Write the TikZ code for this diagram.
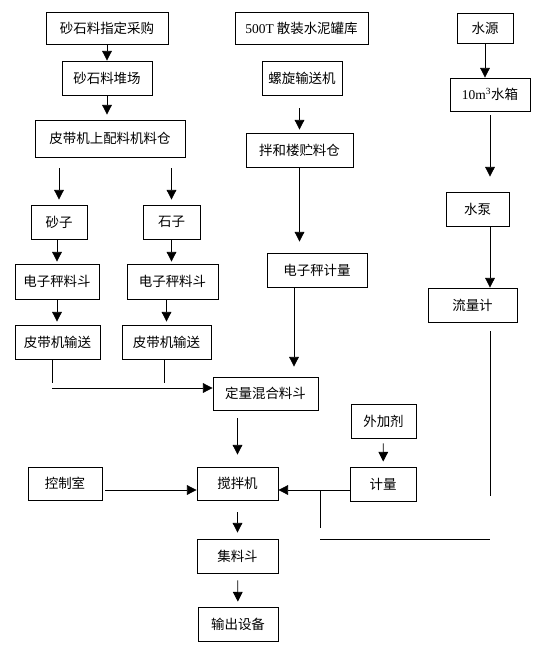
\documentclass[tikz,border=0pt]{standalone}
\usepackage{fontspec}
\setmainfont{Liberation Serif}
\newfontfamily\cjk{Noto Sans CJK SC}
\usepackage{tikz}
\usetikzlibrary{arrows.meta}
\tikzset{
  stage/.style 2 args={draw=black,line width=0.7pt,inner sep=0pt,
    minimum width=#1*0.03cm,minimum height=#2*0.03cm,
    font=\cjk\fontsize{11.5pt}{13pt}\selectfont},
  feed/.style={line width=0.7pt,-{Triangle[length=2.9mm,width=2.9mm]}},
  pipe/.style={line width=0.7pt}
}
\begin{document}
\begin{tikzpicture}[x=0.03cm,y=-0.03cm]
    \useasboundingbox (0,0) rectangle (553,651);
    \node[stage={122}{32}] (buy) at (107,28) {砂石料指定采购};
    \node[stage={90}{34}] (yard) at (107,78) {砂石料堆场};
    \node[stage={150}{37}] (bin) at (110,138.5) {皮带机上配料机料仓};
    \node[stage={56}{34}] (sand) at (59,222) {砂子};
    \node[stage={57}{34}] (stone) at (171.5,222) {石子};
    \node[stage={84}{35}] (scL) at (57,281.5) {电子秤料斗};
    \node[stage={91}{35}] (scR) at (172.5,281.5) {电子秤料斗};
    \node[stage={85}{34}] (beltL) at (57.5,342) {皮带机输送};
    \node[stage={89}{34}] (beltR) at (166.5,342) {皮带机输送};
    \node[stage={105}{33}] (hopper) at (265.5,393.5) {定量混合料斗};
    \node[stage={133}{32}] (cement) at (301.5,28) {{\rmfamily 500T} 散装水泥罐库};
    \node[stage={80}{34}] (screw) at (302,78) {螺旋输送机};
    \node[stage={107}{34}] (silo) at (299.5,150) {拌和楼贮料仓};
    \node[stage={100}{34}] (csc) at (317,270) {电子秤计量};
    \node[stage={56}{30}] (src) at (485,28) {水源};
    \node[stage={80}{33}] (tank) at (490,94.5) {{\rmfamily 10m\textsuperscript{3}}水箱};
    \node[stage={63}{34}] (pump) at (477.5,209) {水泵};
    \node[stage={89}{34}] (fmeter) at (472.5,305) {流量计};
    \node[stage={65}{34}] (admix) at (383.5,421) {外加剂};
    \node[stage={66}{34}] (meter) at (383,484) {计量};
    \node[stage={81}{33}] (mixer) at (237.5,483.5) {搅拌机};
    \node[stage={74}{33}] (ctrl) at (65,483.5) {控制室};
    \node[stage={81}{34}] (collect) at (237.5,556) {集料斗};
    \node[stage={80}{34}] (out) at (238,624) {输出设备};
    \coordinate (jL) at (52,383);
    \coordinate (jR) at (164,383);
    \coordinate (bus) at (52,388);
    \coordinate (cdrop) at (294,287);
    \coordinate (wend) at (490,496);
    \coordinate (jw) at (320,490);
    \coordinate (jb) at (320,528);
    \coordinate (wl) at (320,539);
    \draw[feed] (buy) -- (yard);
    \draw[feed,shorten >=0.15cm] (yard.south) -- (yard.south |- bin.north);
    \draw[feed,shorten <=0.33cm,shorten >=0.15cm] (bin.south -| sand) -- (sand.north);
    \draw[feed,shorten <=0.33cm,shorten >=0.15cm] (bin.south -| stone) -- (stone.north);
    \draw[feed,shorten >=0.06cm] (sand.south -| scL) -- (scL.north);
    \draw[feed,shorten >=0.06cm] (stone.south) -- (stone.south |- scR.north);
    \draw[feed,shorten >=0.09cm] (scL.south) -- (scL.south |- beltL.north);
    \draw[feed,shorten >=0.09cm] (scR.south -| beltR) -- (beltR.north);
    \draw[pipe] (beltL.south -| jL) -- (jL);
    \draw[pipe] (beltR.south -| jR) -- (jR);
    \draw[feed] (bus) -- (hopper.west |- bus);
    \draw[feed,shorten <=0.39cm,shorten >=0.09cm] (screw.south -| silo) -- (silo.north);
    \draw[feed,shorten >=0.33cm] (silo.south) -- (silo.south |- csc.north);
    \draw[feed,shorten >=0.3cm] (cdrop) -- (cdrop |- hopper.north);
    \draw[feed] (src.south) -- (src.south |- tank.north);
    \draw[feed,shorten <=0.12cm,shorten >=0.45cm] (tank.south) -- (tank.south |- pump.north);
    \draw[feed] (pump.south -| tank) -- (fmeter.north -| tank);
    \draw[pipe,shorten <=0.27cm] (fmeter.south -| wend) -- (wend);
    \draw[pipe] (wl) -- (wl -| wend);
    \draw[pipe] (jw) -- (jb);
    \draw[feed,shorten <=0.15cm,shorten >=0.15cm] (admix) -- (meter);
    \draw[feed] (meter.west |- jw) -- (mixer.east |- jw);
    \draw[feed,shorten <=0.09cm] (ctrl.east |- jw) -- (mixer.west |- jw);
    \draw[feed,shorten <=0.24cm,shorten >=0.36cm] (hopper.south -| mixer) -- (mixer.north);
    \draw[feed,shorten <=0.36cm,shorten >=0.18cm] (mixer) -- (collect);
    \draw[feed,shorten <=0.21cm,shorten >=0.15cm] (collect) -- (out);
\end{tikzpicture}
\end{document}
